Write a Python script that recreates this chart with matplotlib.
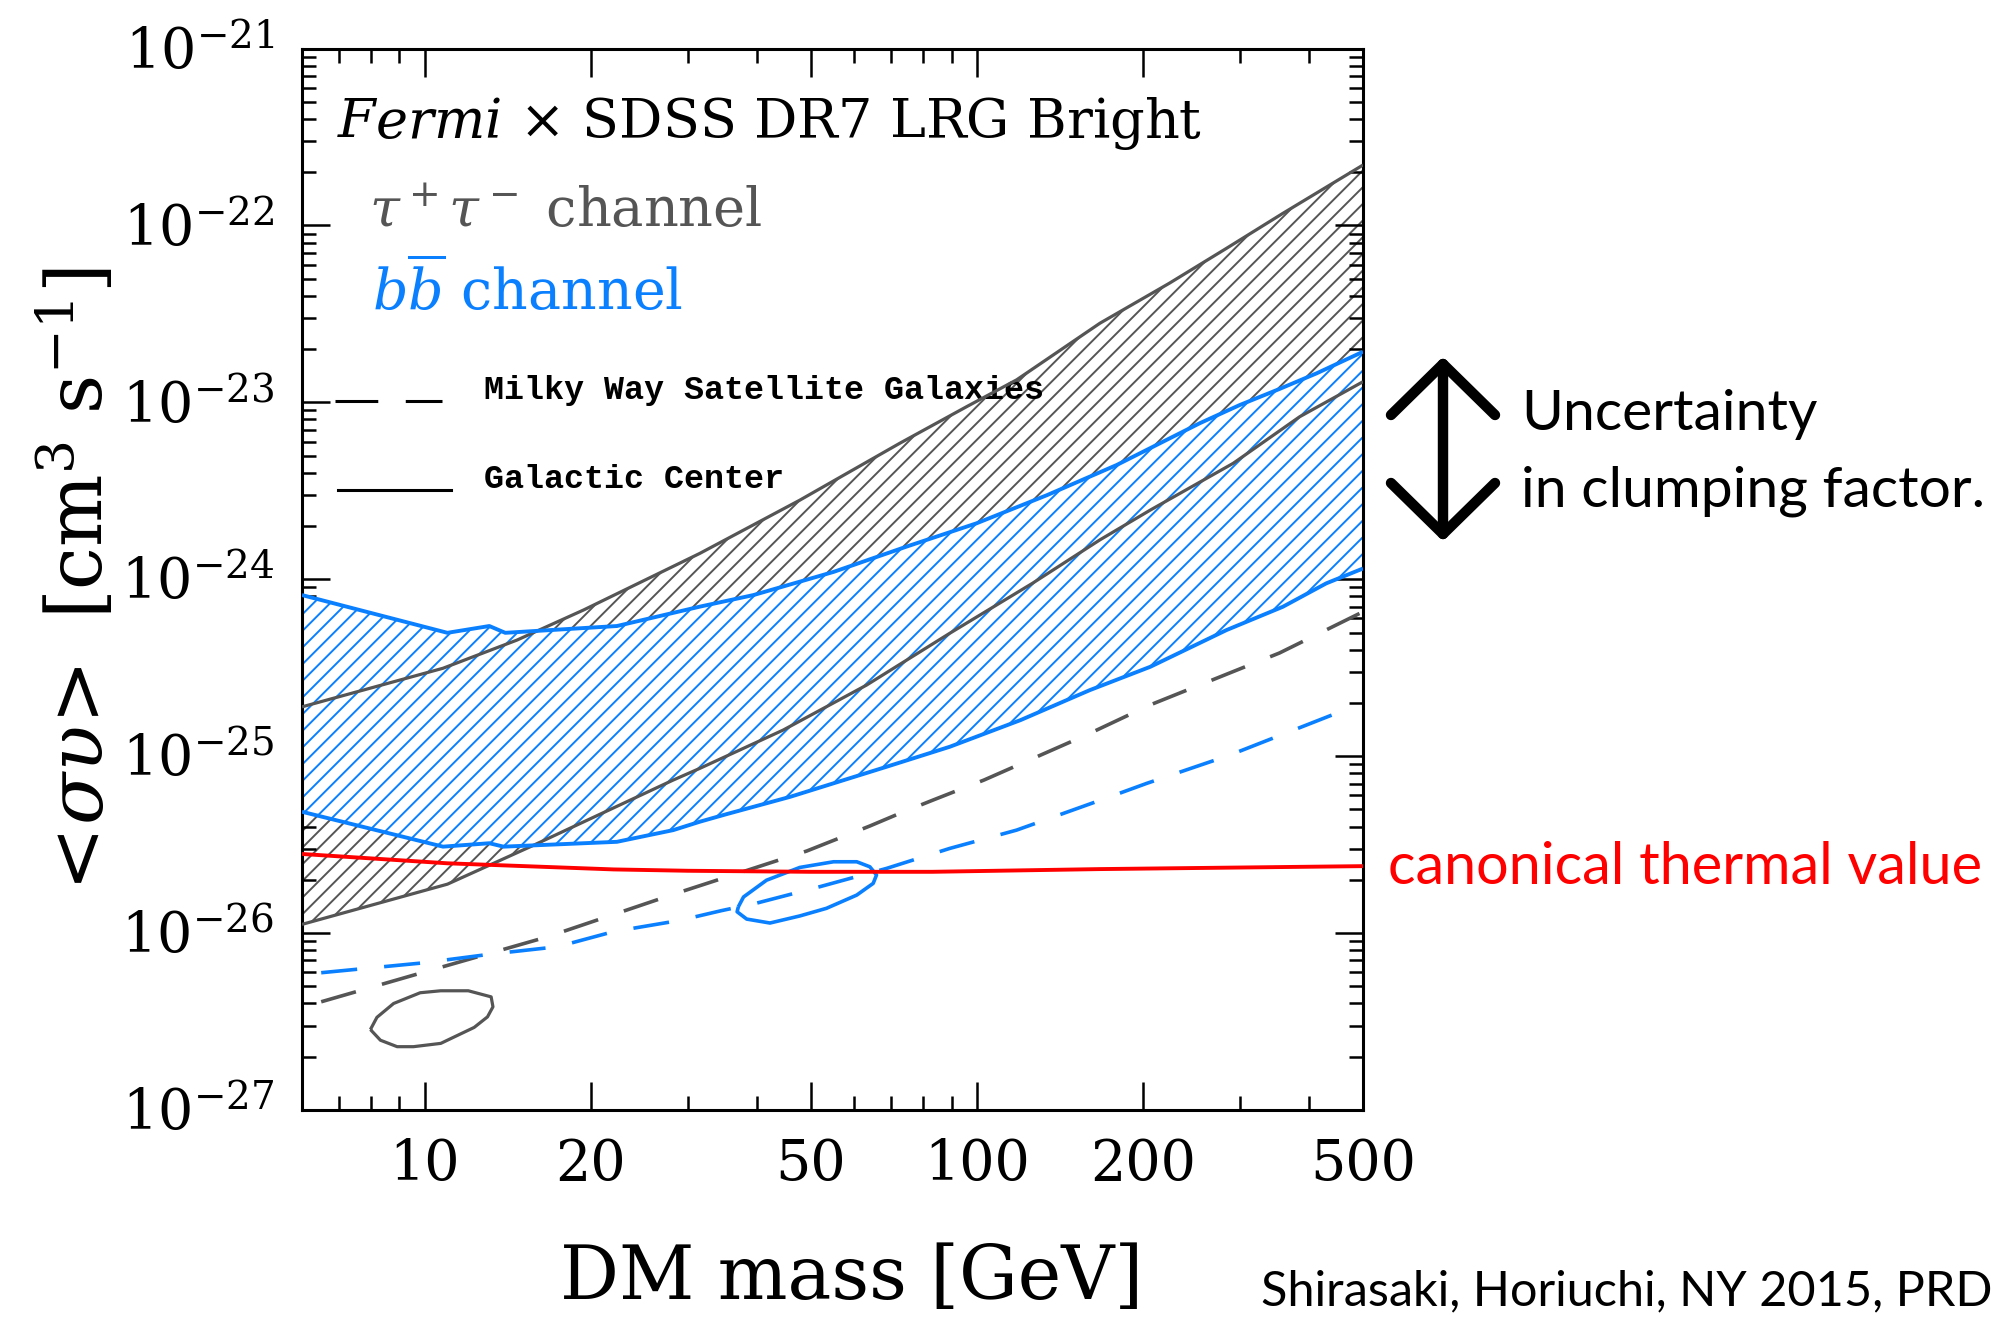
import numpy as np
import matplotlib
matplotlib.use("Agg")
import matplotlib.pyplot as plt
import matplotlib.transforms as mtransforms
from matplotlib.lines import Line2D
from matplotlib.ticker import FixedLocator, NullFormatter, LogLocator

plt.rcParams['font.family'] = 'DejaVu Serif'
plt.rcParams['mathtext.fontset'] = 'dejavuserif'
plt.rcParams['hatch.linewidth'] = 1.4

GRAY = '#555555'
BLUE = '#0a80ff'
RED = '#ff0000'
UNIT = 1e-26   # cross sections below are given in units of 1e-26 cm^3/s

# Galactic Center, tau+tau- band (upper / lower edge)
tau_gc_hi_m = [6.0, 10.8, 14.7, 19.4, 31.5, 47.8, 72.5, 95.8, 118, 167, 223, 283, 358, 500]
tau_gc_hi_sv = [19.0, 31.4, 45.3, 67.0, 140, 280, 587, 945, 1340, 2800, 4710, 7420, 11700, 21950]
tau_gc_lo_m = [6.0, 11.0, 15.8, 28.2, 31.5, 44.6, 63.1, 89.3, 126, 167, 206, 291, 384, 500]
tau_gc_lo_sv = [1.12, 1.89, 3.15, 7.33, 8.53, 14.05, 25.2, 49.5, 94.8, 167, 246, 452, 829, 1308]

# Galactic Center, b bbar band
bb_gc_hi_m = [6.0, 11.0, 13.1, 14.0, 22.3, 31.5, 39.4, 55.0, 74.6, 99.8, 134, 179, 253, 299, 353, 412, 500]
bb_gc_hi_sv = [81.4, 49.8, 54.4, 49.8, 54.4, 70.0, 81.4, 110, 153, 207, 299, 442, 761, 965, 1190, 1458, 1932]
bb_gc_lo_m = [6.0, 10.8, 13.1, 13.9, 22.3, 28.2, 31.5, 35.2, 45.9, 68.6, 89.3, 120, 160, 206, 283, 358, 429, 500]
bb_gc_lo_sv = [4.85, 3.08, 3.22, 3.08, 3.28, 3.82, 4.26, 4.7, 5.89, 8.71, 11.3, 16.0, 23.6, 32.0, 51.6, 69.9, 94.8, 115]

# Milky Way satellite limits
tau_dsph_m = [6.5, 9.8, 16.7, 28.6, 49.2, 64.0, 72.5, 83.3, 103, 158, 206, 353, 500]
tau_dsph_sv = [0.409, 0.592, 0.953, 1.68, 2.91, 4.03, 4.75, 5.65, 7.33, 13.2, 19.5, 38.3, 65.5]
bb_dsph_m = [6.5, 9.96, 13.2, 17.4, 22.0, 29.0, 34.5, 39.7, 52.0, 68.6, 89.3, 118, 154, 174, 203, 286, 473]
bb_dsph_sv = [0.597, 0.679, 0.761, 0.837, 1.02, 1.18, 1.34, 1.47, 1.83, 2.32, 3.01, 3.82, 5.14, 5.89, 7.02, 10.1, 18.7]

# thermal relic cross section
thermal_m = [6.0, 11.0, 22.0, 30.0, 50.0, 83.0, 167, 500]
thermal_sv = [2.80, 2.48, 2.29, 2.25, 2.22, 2.22, 2.30, 2.39]

# best-fit contours
tau_fit_m = [7.98, 8.20, 8.79, 9.82, 10.7, 12.0, 13.2, 13.3, 13.0, 12.3, 10.7, 9.55, 8.92, 8.32, 7.98]
tau_fit_sv = [0.285, 0.334, 0.400, 0.460, 0.472, 0.472, 0.436, 0.383, 0.336, 0.293, 0.238, 0.228, 0.228, 0.248, 0.285]
bb_fit_m = [37.0, 37.8, 41.6, 47.8, 55.0, 60.6, 64.0, 65.8, 64.9, 60.6, 53.4, 47.8, 42.2, 38.3, 36.8, 37.0]
bb_fit_sv = [1.41, 1.60, 1.99, 2.35, 2.53, 2.53, 2.37, 2.13, 1.91, 1.64, 1.38, 1.25, 1.14, 1.20, 1.32, 1.41]

xticks_major = [10, 20, 50, 100, 200, 500]
xticks_minor = [7, 8, 9, 30, 40, 60, 70, 80, 90, 300, 400]
ydecades = [-27, -26, -25, -24, -23, -22, -21]


def sv(vals):
    return np.array(vals) * UNIT


fig = plt.figure(figsize=(20.07, 13.17), dpi=100)
W, H = 2007, 1317
ax = fig.add_axes([302 / W, 1 - 1110 / H, 1061 / W, 1061.5 / H])
ax.set_xscale('log')
ax.set_yscale('log')
ax.set_xlim(6, 500)
ax.set_ylim(1e-27, 1e-21)

# hatched bands
ax.fill(np.r_[tau_gc_hi_m, tau_gc_lo_m[::-1]], np.r_[sv(tau_gc_hi_sv), sv(tau_gc_lo_sv)[::-1]],
        facecolor='none', edgecolor=GRAY, hatch='//', linewidth=0, zorder=1)
ax.fill(np.r_[bb_gc_hi_m, bb_gc_lo_m[::-1]], np.r_[sv(bb_gc_hi_sv), sv(bb_gc_lo_sv)[::-1]],
        facecolor='white', edgecolor=BLUE, hatch='//', linewidth=0, zorder=2)

lk = dict(solid_joinstyle='round', solid_capstyle='butt')
ax.plot(tau_gc_hi_m, sv(tau_gc_hi_sv), color=GRAY, lw=2.3, zorder=4, **lk)
ax.plot(tau_gc_lo_m, sv(tau_gc_lo_sv), color=GRAY, lw=2.3, zorder=4, **lk)
ax.plot(bb_gc_hi_m, sv(bb_gc_hi_sv), color=BLUE, lw=2.8, zorder=4, **lk)
ax.plot(bb_gc_lo_m, sv(bb_gc_lo_sv), color=BLUE, lw=2.8, zorder=4, **lk)

ax.plot(tau_dsph_m, sv(tau_dsph_sv), color=GRAY, lw=2.6, dashes=(10, 7.5), zorder=4)
ax.plot(bb_dsph_m, sv(bb_dsph_sv), color=BLUE, lw=2.6, dashes=(10, 7.5), zorder=4)

ax.plot(thermal_m, sv(thermal_sv), color=RED, lw=2.8, zorder=5, **lk)

ax.plot(tau_fit_m, sv(tau_fit_sv), color=GRAY, lw=2.3, zorder=4, **lk)
ax.plot(bb_fit_m, sv(bb_fit_sv), color=BLUE, lw=2.6, zorder=4, **lk)

# axes, ticks
for s in ax.spines.values():
    s.set_linewidth(2.2)
ax.xaxis.set_major_locator(FixedLocator(xticks_major))
ax.xaxis.set_minor_locator(FixedLocator(xticks_minor))
ax.xaxis.set_minor_formatter(NullFormatter())
ax.set_xticklabels([str(t) for t in xticks_major])
ax.yaxis.set_major_locator(FixedLocator([10.0 ** d for d in ydecades]))
ax.yaxis.set_minor_locator(LogLocator(base=10, subs=np.arange(2, 10), numticks=20))
ax.yaxis.set_minor_formatter(NullFormatter())
ax.set_yticklabels([r'$10^{%d}$' % d for d in ydecades])
ax.tick_params(which='both', direction='in', top=True, right=True, width=1.8)
ax.tick_params(which='major', length=20, labelsize=40)
ax.tick_params(which='minor', length=10)
ax.tick_params(axis='x', which='major', pad=20)
ax.tick_params(axis='y', which='major', pad=20)

shift = mtransforms.ScaledTranslation(0, -14.5 / 72, fig.dpi_scale_trans)
for lab in ax.get_yticklabels():
    lab.set_verticalalignment('baseline')
    lab.set_transform(lab.get_transform() + shift)

# labels
fig.text(852 / W, 1 - 1299 / H, 'DM mass [GeV]', ha='center', va='baseline', fontsize=53)
ylab_kw = dict(rotation=90, rotation_mode='anchor', ha='center', va='baseline', fontsize=55)
fig.text(103 / W, 1 - 785 / H, r'$<\!\sigma\upsilon\!>$', **ylab_kw)
fig.text(103 / W, 1 - 443 / H, r'[cm$^3$ s$^{-1}$]', **ylab_kw)

# in-panel legend
ax.text(0.033, 0.9157, r'$\mathit{Fermi}$ $\times$ SDSS DR7 LRG Bright', transform=ax.transAxes,
        fontsize=39, va='baseline')
ax.text(0.063, 0.8328, r'$\tau^+\tau^-$ channel', transform=ax.transAxes,
        fontsize=39, va='baseline', color=GRAY)
ax.text(0.066, 0.7536, r'$b\overline{b}$ channel', transform=ax.transAxes,
        fontsize=40, va='baseline', color=BLUE)

ax.plot([0.0311, 0.132], [0.6679, 0.6679], transform=ax.transAxes, color='black',
        lw=2.2, dashes=(14, 9))
ax.plot([0.0335, 0.1404], [0.5841, 0.5841], transform=ax.transAxes, color='black', lw=2.2)
ax.text(0.1715, 0.678, 'Milky Way Satellite Galaxies', transform=ax.transAxes,
        fontsize=24, va='center', family='Liberation Mono', weight='bold')
ax.text(0.1715, 0.5944, 'Galactic Center', transform=ax.transAxes,
        fontsize=24, va='center', family='Liberation Mono', weight='bold')


# right-hand annotations
def fx(px):
    return px / W


def fy(py):
    return 1 - py / H


arrow_kw = dict(color='black', lw=7.5, solid_capstyle='round', solid_joinstyle='round',
                transform=fig.transFigure)
fig.add_artist(Line2D([fx(1443), fx(1443)], [fy(364), fy(534)], **arrow_kw))
fig.add_artist(Line2D([fx(1391), fx(1443), fx(1495)], [fy(415), fy(364), fy(415)], **arrow_kw))
fig.add_artist(Line2D([fx(1391), fx(1443), fx(1495)], [fy(483), fy(534), fy(483)], **arrow_kw))

fig.text(fx(1521), fy(430), 'Uncertainty', family='Lato', fontsize=41, va='baseline')
fig.text(fx(1521), fy(507), 'in clumping factor.', family='Lato', fontsize=41, va='baseline')
fig.text(fx(1388), fy(884), 'canonical thermal value', family='Lato', fontsize=41.5,
         va='baseline', color=RED)
fig.text(fx(1261), fy(1305), 'Shirasaki, Horiuchi, NY 2015, PRD', family='Lato', fontsize=35,
         va='baseline')

fig.savefig('out.png', dpi=100)
